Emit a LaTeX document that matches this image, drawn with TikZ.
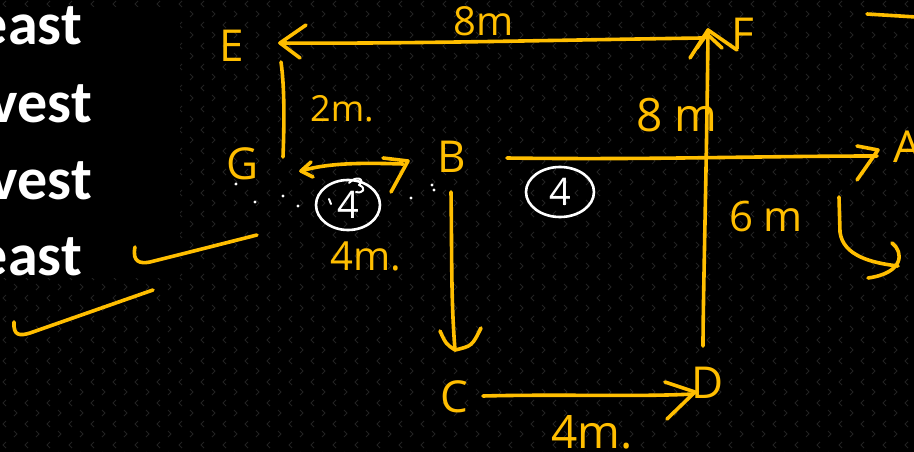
\documentclass[tikz,border=0pt]{standalone}
\usepackage{fontspec}
\setmainfont{Open Sans}
\newfontfamily\calib{Carlito}
\usetikzlibrary{shapes.geometric}
\definecolor{hy}{RGB}{255,190,0}
\definecolor{patc}{RGB}{34,34,34}
\begin{document}
\begin{tikzpicture}[x=1pt,y=-1pt,
  hand/.style={draw=hy,line width=3.6pt,line cap=round,line join=round},
  wht/.style={draw=white,line width=2.6pt,line cap=round,line join=round},
  pat/.style={draw=patc,line width=0.9pt},
  lt/.style={text=hy,inner sep=0pt,font=\fontsize{44}{44}\selectfont},
  lbl/.style={text=hy,inner sep=0pt},
  wtxt/.style={text=white,inner sep=0pt,anchor=base east,font=\calib\bfseries\fontsize{60}{60}\selectfont},
  circ/.style={ellipse,draw=white,line width=2.6pt,text=white,inner sep=0pt,font=\fontsize{38}{38}\selectfont}]
\useasboundingbox (0,0) rectangle (914,452);
\fill[black] (0,0) rectangle (914,452);
% background texture
\foreach \i in {0,...,41}{
  \foreach \j in {0,...,21}{
    \draw[pat] ({\i*22+6},{\j*21+1}) -- ++(-3,3) -- ++(3,3);
    \draw[pat] ({\i*22+14},{\j*21+11}) -- ++(3,3) -- ++(-3,3);
  }
}
\fill[black] (0,7) rectangle (180,278);
% left white text
\node[wtxt] (t1) at (82,45) {east};
\node[wtxt] (t2) at (92,122) {vest};
\node[wtxt] (t3) at (92,199) {vest};
\node[wtxt] (t4) at (82,275) {east};
% point letters
\node[lt] (E) at (232,46) {E};
\node[lt] (F) at (743,34) {F};
\node[lt] (G) at (243,164) {G};
\node[lt] (B) at (452,157) {B};
\node[lt] (A) at (907,147) {A};
\node[lt] (C) at (454,397) {C};
\node[lt] (D) at (708,383) {D};
% distance labels
\node[lbl,font=\fontsize{40}{40}\selectfont] (l8a) at (484,21) {8m};
\node[lbl,font=\fontsize{36}{36}\selectfont] (l2) at (342,109) {2m.};
\node[lbl,font=\fontsize{46}{46}\selectfont] (l8b) at (677,115) {8 m};
\node[lbl,font=\fontsize{42}{42}\selectfont] (l6) at (766,216) {6 m};
\node[lbl,font=\fontsize{40}{40}\selectfont] (l4a) at (366,256) {4m.};
\node[lbl,font=\fontsize{46}{46}\selectfont] (l4b) at (592,432) {4m.};
% circled fours
\node[circ,minimum width=64pt,minimum height=50pt] (c1) at (348,205) {4};
\node[circ,minimum width=68pt,minimum height=50pt] (c2) at (560,192) {4};
\draw[wht,line width=2pt] (349,183) .. controls (356,175) and (366,179) .. (359,185) .. controls (367,188) and (363,194) .. (356,192);
\draw[wht,line width=2pt] (329,199) -- (331,204);
% stray white marks
\foreach \p in {(236,184),(255,202),(283,196),(298,206),(411,198),(432,185),(434,190)}
  \fill[white] \p circle (1.6pt);
% named coordinates for connectors
\coordinate (EFr) at (702,38);
\coordinate (EFl) at (280,43);
\coordinate (FDt) at (708,30);
\coordinate (FDb) at (703,346);
\coordinate (BAl) at (507,158);
\coordinate (BAr) at (877,156);
\coordinate (EGt) at (281,62);
\coordinate (EGb) at (283,157);
\coordinate (GBl) at (301,171);
\coordinate (GBr) at (403,164);
\coordinate (BCt) at (451,192);
\coordinate (BCb) at (455,350);
\coordinate (CDl) at (483,396);
\coordinate (CDr) at (693,394);
% E <- F
\draw[hand] (EFr) .. controls (560,40) and (400,44) .. (EFl);
\draw[hand] (306,25) -- (EFl) -- (300,58);
% D -> F (up)
\draw[hand] (FDb) .. controls (703,300) and (707,150) .. (FDt);
\draw[hand] (690,58) -- (FDt) -- (737,50);
\draw[hand] (697,48) -- (707,34) -- (722,48);
% B -> A
\draw[hand] (BAl) .. controls (650,160) and (760,156) .. (BAr);
\draw[hand] (857,146) -- (878,150) -- (857,180);
% E - G
\draw[hand] (EGt) .. controls (285,90) and (284,130) .. (EGb);
% G <-> B
\draw[hand] (GBl) .. controls (330,162) and (370,163) .. (GBr);
\draw[hand] (311,162) -- (GBl) -- (313,177);
\draw[hand] (383,158) -- (408,161) -- (391,192);
% B -> C
\draw[hand] (BCt) .. controls (452,260) and (451,300) .. (BCb);
\draw[hand] (440,331) .. controls (446,344) .. (BCb) .. controls (472,346) .. (481,328);
% C -> D
\draw[hand] (CDl) .. controls (560,394) and (640,397) .. (CDr);
\draw[hand] (665,382) -- (695,392) -- (667,419);
% curved arrow at right
\coordinate (rt) at (839,197);
\coordinate (rb) at (898,266);
\draw[hand] (rt) -- (840,232) .. controls (843,256) and (872,263) .. (rb);
\draw[hand] (892,243) .. controls (904,252) and (904,273) .. (868,278);
% top right stroke
\coordinate (tr1) at (867,14);
\coordinate (tr2) at (916,17);
\draw[hand] (tr1) -- (tr2);
% check strokes at left
\coordinate (k1) at (135,247);
\coordinate (k2) at (257,235);
\draw[hand] (k1) .. controls (132,262) and (140,264) .. (150,262) .. controls (190,252) .. (k2);
\coordinate (k3) at (14,322);
\coordinate (k4) at (153,290);
\draw[hand] (k3) .. controls (13,336) and (20,336) .. (30,333) .. controls (90,312) .. (k4);
\end{tikzpicture}
\end{document}
